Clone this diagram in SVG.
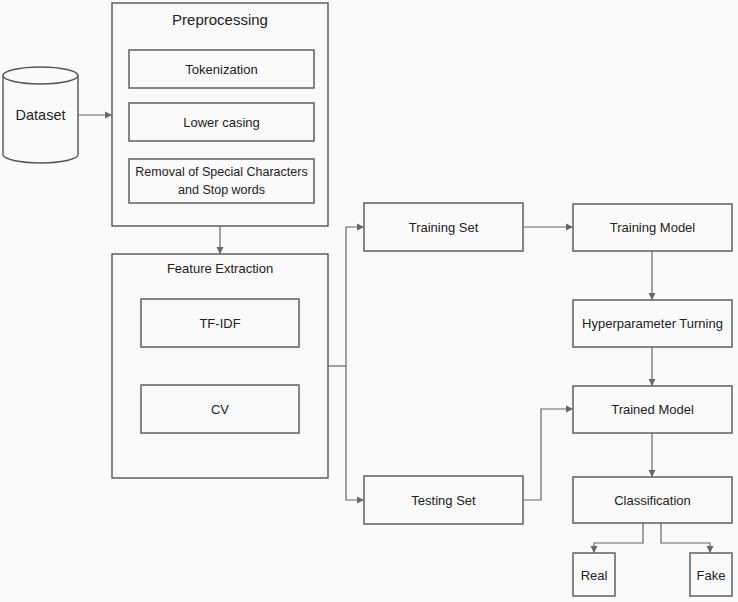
<svg xmlns="http://www.w3.org/2000/svg" width="738" height="602" viewBox="0 0 738 602">
<defs>
<style>
.box{fill:none;stroke:#555;stroke-width:1.4}
.t{font-family:"Liberation Sans",Arial,sans-serif;font-size:13px;fill:#222;text-anchor:middle;dominant-baseline:central}
.c{fill:none;stroke:#666;stroke-width:1.2}
</style>
<marker id="ah" markerWidth="8" markerHeight="8" refX="7" refY="4" orient="auto" markerUnits="userSpaceOnUse">
<path d="M0,0.5 L7,4 L0,7.5 Z" fill="#666"/>
</marker>
</defs>
<rect width="738" height="602" fill="#fafafa"/>
<g id="dataset">
<path class="box" d="M3,75.5 L3,154.5 A37.5,8.5 0 0 0 78,154.5 L78,75.5"/>
<ellipse class="box" cx="40.5" cy="75.5" rx="37.5" ry="8.5"/>
<text class="t" x="40.5" y="115" style="font-size:14.5px">Dataset</text>
</g>
<g id="preprocessing">
<rect class="box" x="112" y="3" width="216" height="223"/>
<text class="t" x="220" y="19" style="font-size:15px">Preprocessing</text>
</g>
<g id="tokenization">
<rect class="box" x="129" y="50" width="185" height="38"/>
<text class="t" x="221.5" y="69">Tokenization</text>
</g>
<g id="lowercasing">
<rect class="box" x="129" y="103" width="185" height="38"/>
<text class="t" x="221.5" y="122">Lower casing</text>
</g>
<g id="removal">
<rect class="box" x="129" y="159" width="185" height="44"/>
<text class="t" x="221.5" y="172" style="font-size:12.5px">Removal of Special Characters</text>
<text class="t" x="221.5" y="190" style="font-size:12.5px">and Stop words</text>
</g>
<g id="feature">
<rect class="box" x="112" y="254" width="216" height="224"/>
<text class="t" x="220" y="268">Feature Extraction</text>
</g>
<g id="tfidf">
<rect class="box" x="141" y="299" width="158" height="48"/>
<text class="t" x="220" y="323">TF-IDF</text>
</g>
<g id="cv">
<rect class="box" x="141" y="385" width="158" height="48"/>
<text class="t" x="220" y="409">CV</text>
</g>
<g id="trainingset">
<rect class="box" x="364" y="203" width="159" height="48"/>
<text class="t" x="443.5" y="227">Training Set</text>
</g>
<g id="testingset">
<rect class="box" x="364" y="476" width="159" height="48"/>
<text class="t" x="443.5" y="500">Testing Set</text>
</g>
<g id="trainingmodel">
<rect class="box" x="573" y="204" width="159" height="47"/>
<text class="t" x="652.5" y="227">Training Model</text>
</g>
<g id="hyper">
<rect class="box" x="573" y="300" width="159" height="47"/>
<text class="t" x="652.5" y="323">Hyperparameter Turning</text>
</g>
<g id="trained">
<rect class="box" x="573" y="386" width="159" height="47"/>
<text class="t" x="652.5" y="409">Trained Model</text>
</g>
<g id="classification">
<rect class="box" x="573" y="477" width="159" height="46"/>
<text class="t" x="652.5" y="500">Classification</text>
</g>
<g id="real">
<rect class="box" x="573" y="553" width="42" height="43"/>
<text class="t" x="594" y="575">Real</text>
</g>
<g id="fake">
<rect class="box" x="690" y="553" width="42" height="43"/>
<text class="t" x="711" y="575">Fake</text>
</g>
<g id="connectors">
<path class="c" d="M78,115 L112,115" marker-end="url(#ah)"/>
<path class="c" d="M220,226 L220,254" marker-end="url(#ah)"/>
<path class="c" d="M328,366 L346,366"/>
<path class="c" d="M346,366 L346,227 L364,227" marker-end="url(#ah)"/>
<path class="c" d="M346,366 L346,500 L364,500" marker-end="url(#ah)"/>
<path class="c" d="M523,227 L573,227" marker-end="url(#ah)"/>
<path class="c" d="M652,251 L652,300" marker-end="url(#ah)"/>
<path class="c" d="M652,347 L652,386" marker-end="url(#ah)"/>
<path class="c" d="M523,500 L541,500 L541,409 L573,409" marker-end="url(#ah)"/>
<path class="c" d="M652,433 L652,477" marker-end="url(#ah)"/>
<path class="c" d="M643,523 L643,543 L594,543 L594,553" marker-end="url(#ah)"/>
<path class="c" d="M661,523 L661,543 L710,543 L710,553" marker-end="url(#ah)"/>
</g>
</svg>
